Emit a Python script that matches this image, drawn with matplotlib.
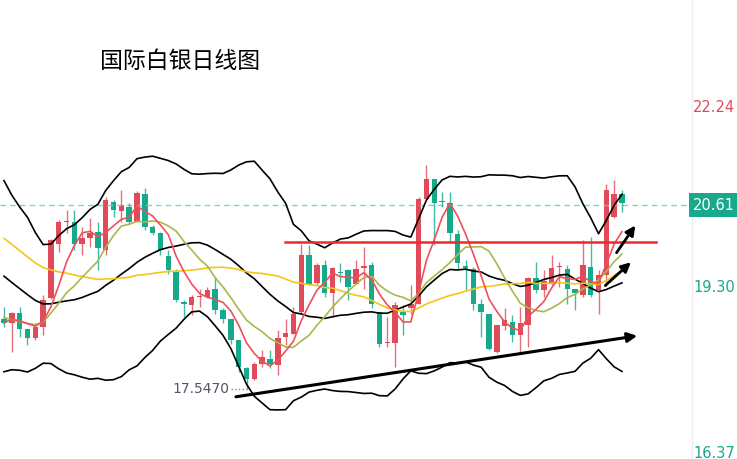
import matplotlib.pyplot as plt
import pandas as pd
import numpy as np

# closes before the visible window, only used to warm up the indicators
prior_closes = [21.6, 21.8, 21.7, 21.5, 21.6, 21.4, 21.2, 21.3, 21.0, 20.9,
                20.8, 20.9, 20.6, 20.4, 20.5, 20.2, 20.0, 19.8, 19.9, 19.6,
                19.3, 19.1, 18.9, 18.7, 18.8, 18.6, 18.5, 18.7, 18.6, 18.8]

# daily candles, red = up, green = down
opens = [18.72, 18.64, 18.81, 18.55, 18.39, 18.58, 19.06, 19.97, 20.33, 20.33,
         19.97, 20.07, 20.16, 19.86, 20.67, 20.51, 20.58, 20.33, 20.80, 20.25,
         20.14, 19.76, 19.51, 19.00, 18.94, 19.08, 19.08, 19.22, 18.86, 18.72,
         18.36, 17.89, 17.72, 17.97, 18.05, 17.94, 18.42, 18.47, 18.83, 19.78,
         19.31, 19.61, 19.15, 19.50, 19.53, 19.30, 19.57, 19.61, 18.83, 18.31,
         18.31, 18.83, 18.89, 18.97, 20.72, 21.04, 20.67, 20.64, 20.13, 19.60,
         19.55, 18.97, 18.80, 18.16, 18.60, 18.67, 18.44, 18.61, 19.40, 19.19,
         19.31, 19.58, 19.54, 19.21, 19.11, 19.58, 19.19, 19.44, 20.42, 20.80]
closes = [18.64, 18.81, 18.55, 18.39, 18.58, 19.03, 20.03, 20.33, 20.35, 19.97,
          20.07, 20.15, 19.89, 20.69, 20.53, 20.61, 20.33, 20.82, 20.25, 20.14,
          19.86, 19.53, 19.03, 18.97, 19.08, 19.09, 19.20, 18.86, 18.72, 18.36,
          17.92, 17.72, 17.97, 18.08, 17.97, 18.39, 18.48, 18.80, 19.78, 19.30,
          19.61, 19.14, 19.57, 19.48, 19.25, 19.54, 19.59, 18.97, 18.30, 18.33,
          18.94, 18.78, 18.97, 20.72, 21.05, 20.64, 20.66, 20.14, 19.64, 19.57,
          18.97, 18.83, 18.22, 18.61, 18.69, 18.44, 18.64, 19.40, 19.19, 19.35,
          19.57, 19.59, 19.22, 19.14, 19.61, 19.11, 19.44, 20.86, 20.80, 20.64]
highs = [18.92, 18.83, 18.92, 18.55, 18.64, 19.11, 20.05, 20.37, 20.53, 20.53,
         20.25, 20.39, 20.33, 20.75, 20.69, 20.86, 20.64, 20.85, 20.89, 20.28,
         20.17, 19.86, 19.55, 19.03, 19.11, 19.22, 19.25, 19.42, 18.89, 18.72,
         18.36, 17.92, 18.00, 18.19, 18.19, 18.53, 18.72, 18.92, 19.97, 19.94,
         19.64, 19.69, 19.58, 19.64, 19.55, 19.69, 19.92, 19.67, 18.83, 18.75,
         19.00, 18.94, 19.28, 20.75, 21.28, 21.05, 20.83, 20.83, 20.19, 19.69,
         19.58, 19.05, 18.80, 18.61, 18.89, 18.78, 18.92, 19.42, 19.67, 19.53,
         19.78, 19.67, 19.61, 19.22, 20.03, 20.08, 19.53, 20.97, 21.03, 20.87]
lows = [18.58, 18.17, 18.42, 18.28, 18.36, 18.44, 19.05, 19.83, 20.14, 19.86,
        19.78, 19.92, 19.53, 19.78, 20.42, 20.33, 20.30, 20.33, 20.19, 20.11,
        19.78, 19.47, 19.00, 18.75, 18.78, 18.92, 19.08, 18.80, 18.64, 18.30,
        17.83, 17.547, 17.70, 17.92, 17.89, 17.78, 18.28, 18.47, 18.80, 19.28,
        19.28, 19.08, 18.75, 19.33, 19.03, 19.30, 19.22, 18.90, 18.25, 18.25,
        17.92, 18.44, 18.80, 18.97, 20.69, 19.94, 20.58, 20.00, 19.53, 19.19,
        18.86, 18.42, 18.19, 18.14, 18.53, 18.33, 18.17, 18.25, 19.14, 19.08,
        19.28, 19.25, 18.97, 18.87, 19.08, 19.08, 18.80, 19.33, 20.39, 20.50]

last_price = 20.61
resistance = 19.99
low_label = "17.5470"
axis_labels = ["22.24", "20.61", "19.30", "16.37"]

RED = "#e04b5a"
GREEN = "#17a98b"

df = pd.DataFrame({"o": opens, "h": highs, "l": lows, "c": closes})
x = np.arange(len(df))
n_prior = len(prior_closes)
allc = pd.Series(prior_closes + closes)
ma5 = allc.rolling(5, min_periods=1).mean()[n_prior:].values
ma10 = allc.rolling(10, min_periods=1).mean()[n_prior:].values
ma30 = allc.rolling(30, min_periods=1).mean()[n_prior:].values
mid = allc.rolling(20, min_periods=1).mean()
sd = allc.rolling(20, min_periods=2).std().bfill()
upper = (mid + 2 * sd)[n_prior:].values
lower = (mid - 2 * sd)[n_prior:].values
mid = mid[n_prior:].values

fig = plt.figure(figsize=(7.37, 4.59), dpi=100)
ax = fig.add_axes([0, 0, 1, 1])
ax.set_xlim(-0.51, 93.7)
ax.set_ylim(16.38, 24.03)
ax.axis("off")

ax.axhline(last_price, color="#7fd3c3", lw=1, ls=(0, (4, 3)), xmax=0.94)
ax.axvline(88.0, color="#eeeeee", lw=1)

for i, r in df.iterrows():
    col = RED if r.c >= r.o else GREEN
    ax.vlines(i, r.l, r.h, color=col, lw=1, alpha=0.8)
    ax.bar(i, max(abs(r.c - r.o), 0.02), bottom=min(r.o, r.c), width=0.7, color=col)

ax.plot(x, upper, color="black", lw=1.2)
ax.plot(x, mid, color="black", lw=1.2)
ax.plot(x, lower, color="black", lw=1.2)
ax.plot(x, ma30, color="#f5c518", lw=1.2)
ax.plot(x, ma10, color="#a8b84a", lw=1.2)
ax.plot(x, ma5, color="#f0505a", lw=1.2)

ax.plot([35.9, 83.3], [resistance, resistance], color="#f02828", lw=1.8)
ax.annotate("", xy=(81.3, 18.44), xytext=(29.3, 17.41),
            arrowprops=dict(arrowstyle="-|>", color="black", lw=2.2, mutation_scale=14))
ax.annotate("", xy=(80.9, 20.31), xytext=(78.1, 19.78),
            arrowprops=dict(arrowstyle="-|>", color="black", lw=2, mutation_scale=14))
ax.annotate("", xy=(80.4, 19.69), xytext=(76.6, 19.24),
            arrowprops=dict(arrowstyle="-|>", color="black", lw=2, mutation_scale=14))

ax.plot([29.0, 31.0], [17.547, 17.547], color="#888888", lw=1, ls=":")
ax.text(28.8, 17.547, low_label, ha="right", va="center", fontsize=10, color="#555566")

fig.text(100 / 737, 1 - 62 / 459, "国际白银日线图", fontsize=16.5,
         family="Noto Sans CJK SC", va="center", ha="left")
fig.text(735 / 737, 1 - 107 / 459, axis_labels[0], color=RED, fontsize=10.5, ha="right", va="center")
fig.text(735 / 737, 1 - 205 / 459, axis_labels[1], color="white", fontsize=10.5, ha="right", va="center",
         bbox=dict(boxstyle="square,pad=0.3", fc=GREEN, ec="none"))
fig.text(735 / 737, 1 - 287 / 459, axis_labels[2], color=GREEN, fontsize=10.5, ha="right", va="center")
fig.text(735 / 737, 1 - 453 / 459, axis_labels[3], color=GREEN, fontsize=10.5, ha="right", va="center")

fig.savefig("out.png", dpi=100)
